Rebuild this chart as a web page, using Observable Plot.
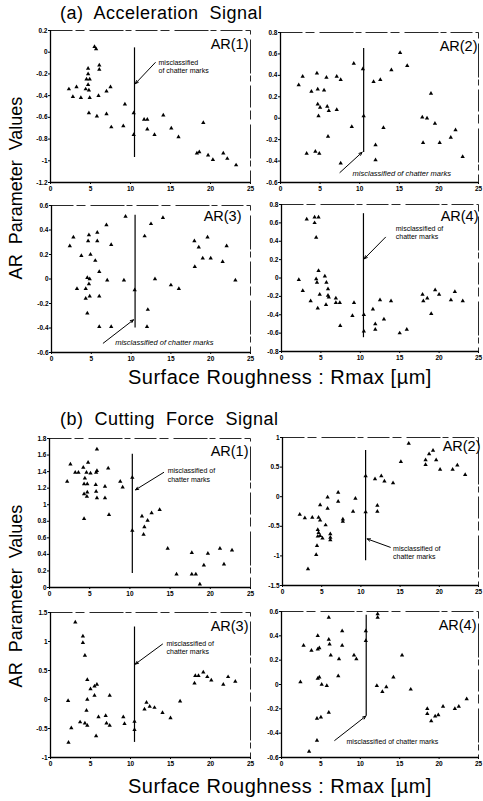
<!DOCTYPE html>
<html><head><meta charset="utf-8">
<script src="https://cdn.jsdelivr.net/npm/d3@7"></script>
<script src="https://cdn.jsdelivr.net/npm/@observablehq/plot@0.6"></script>
<style>
body{margin:0;background:#fff;}
#page{position:relative;width:483px;height:801px;overflow:hidden;background:#fff;font-family:"Liberation Sans",Arial,sans-serif;color:#000;}
.t{position:absolute;white-space:pre;line-height:1;}
</style></head><body><div id="page"></div>
<script>
// ---------- tick labels ----------
const xTicks = [0, 5, 10, 15, 20, 25];
const ticksA1 = [-1.2, -1, -0.8, -0.6, -0.4, -0.2, 0, 0.2];
const ticksA2 = [-0.6, -0.4, -0.2, 0, 0.2, 0.4, 0.6, 0.8];
const ticksA3 = [-0.6, -0.4, -0.2, 0, 0.2, 0.4, 0.6];
const ticksA4 = [-0.8, -0.6, -0.4, -0.2, 0, 0.2, 0.4, 0.6, 0.8];
const ticksB1 = [0, 0.2, 0.4, 0.6, 0.8, 1, 1.2, 1.4, 1.6, 1.8];
const ticksB2 = [-1.5, -1, -0.5, 0, 0.5, 1];
const ticksB3 = [-1, -0.5, 0, 0.5, 1, 1.5];
const ticksB4 = [-0.6, -0.4, -0.2, 0, 0.2, 0.4, 0.6];

// ---------- data: [Rmax (um), AR parameter value] ----------
const accAR1 = [[5.5,0.05],[5.7,0.03],[6.1,-0.12],[6.1,-0.16],[4.7,-0.15],[4.7,-0.20],[4.5,-0.25],[4.9,-0.25],[4.7,-0.30],[2.3,-0.34],[3.25,-0.32],[2.8,-0.41],[3.8,-0.42],[4.4,-0.34],[4.8,-0.35],[4.9,-0.42],[6.0,-0.40],[7.0,-0.36],[7.5,-0.32],[4.8,-0.56],[5.8,-0.59],[7.0,-0.57],[7.6,-0.69],[9.3,-0.48],[9.1,-0.68],[10.4,-0.56],[10.4,-0.76],[11.7,-0.62],[12.1,-0.62],[12.1,-0.71],[13.0,-0.76],[14.1,-0.58],[15.1,-0.70],[16.0,-0.78],[19.1,-0.65],[18.3,-0.93],[18.6,-0.92],[19.7,-0.95],[20.3,-0.99],[21.6,-0.93],[22.1,-0.98],[23.2,-1.04]];
const accAR2 = [[2.3,0.31],[2.8,0.39],[3.9,0.25],[4.6,0.42],[4.7,0.27],[5.5,0.26],[5.8,0.38],[7.1,0.39],[7.6,0.36],[9.25,0.51],[10.4,0.46],[4.7,0.13],[5.0,0.10],[5.9,0.11],[6.1,0.07],[7.1,0.08],[4.8,0.02],[6.0,-0.17],[3.3,-0.33],[4.4,-0.31],[4.9,-0.33],[7.6,-0.42],[9.0,-0.08],[10.5,0.02],[11.75,0.34],[12.6,0.36],[14.0,0.45],[15.1,0.61],[16.0,0.49],[12.0,-0.25],[12.0,-0.39],[13.0,-0.09],[19.0,0.23],[17.9,0.01],[18.5,0.0],[19.5,-0.05],[18.0,-0.23],[20.1,-0.23],[21.5,-0.18],[22.1,-0.11],[23.0,-0.36]];
const accAR3 = [[2.3,0.27],[2.75,0.34],[3.75,0.19],[4.7,0.36],[4.6,0.31],[5.75,0.38],[5.75,0.31],[4.9,0.20],[5.5,0.15],[6.0,0.06],[6.9,0.44],[7.5,0.28],[9.3,0.51],[4.5,0.01],[4.8,0.0],[4.7,-0.04],[3.2,-0.08],[4.3,-0.08],[4.3,-0.16],[4.8,-0.14],[6.0,-0.14],[4.5,-0.28],[6.0,-0.39],[7.5,-0.39],[7.0,-0.01],[9.1,-0.01],[10.45,-0.09],[11.7,0.35],[12.5,0.45],[14.0,0.50],[13.0,0.0],[12.1,-0.25],[12.0,-0.39],[15.0,-0.05],[16.0,-0.08],[17.95,0.31],[18.5,0.26],[19.6,0.34],[19.0,0.17],[20.0,0.17],[18.0,0.10],[21.5,0.14],[22.0,0.27],[23.1,-0.01]];
const accAR4 = [[3.2,0.64],[4.2,0.66],[4.7,0.66],[4.2,0.60],[4.4,0.44],[4.7,0.08],[4.4,-0.01],[4.5,-0.05],[2.2,-0.02],[2.7,-0.14],[3.7,-0.25],[4.85,-0.18],[4.6,-0.33],[5.5,0.02],[5.7,-0.05],[5.9,-0.12],[5.9,-0.19],[6.0,-0.21],[5.65,-0.29],[6.9,-0.22],[6.9,-0.27],[7.4,-0.27],[7.45,-0.52],[9.2,-0.27],[9.0,-0.41],[10.45,-0.40],[10.45,-0.58],[11.6,-0.34],[11.9,-0.50],[11.9,-0.56],[12.5,-0.24],[13.0,-0.45],[13.9,-0.25],[15.0,-0.60],[15.9,-0.56],[17.9,-0.18],[18.0,-0.25],[18.5,-0.22],[19.0,-0.39],[19.5,-0.13],[20.0,-0.18],[21.5,-0.24],[22.0,-0.15],[23.0,-0.25]];
const forceAR1 = [[2.2,1.28],[2.6,1.49],[3.2,1.39],[3.6,1.39],[4.2,1.45],[4.8,1.51],[4.4,1.32],[4.6,1.39],[5.1,1.38],[4.3,1.25],[4.7,1.25],[4.3,1.13],[4.7,1.15],[4.65,1.10],[5.9,1.67],[5.8,1.39],[5.9,1.41],[5.75,1.24],[5.8,1.16],[5.9,1.08],[6.9,1.22],[6.9,1.08],[7.3,1.44],[7.4,0.88],[4.3,0.83],[8.8,1.28],[9.1,1.21],[10.3,1.33],[10.3,0.69],[11.5,0.86],[11.8,0.73],[11.7,0.64],[12.2,0.81],[12.7,0.90],[13.7,0.94],[14.7,0.47],[15.8,0.16],[17.7,0.42],[17.7,0.16],[18.2,0.16],[18.7,0.04],[19.2,0.27],[19.7,0.41],[21.2,0.47],[21.7,0.28],[22.7,0.45]];
const forceAR2 = [[2.2,-0.30],[2.85,-0.36],[3.8,-0.35],[4.6,-0.35],[4.8,-0.40],[4.8,-0.14],[5.75,-0.01],[5.75,-0.20],[7.1,0.07],[7.1,-0.08],[7.7,-0.38],[7.7,-0.42],[5.5,-0.48],[4.5,-0.56],[4.6,-0.61],[4.8,-0.66],[4.5,-0.67],[5.1,-0.70],[6.1,-0.63],[6.1,-0.69],[6.1,-0.73],[4.4,-0.83],[4.3,-0.98],[3.25,-1.22],[9.0,-0.25],[9.3,-0.03],[10.6,-0.26],[10.6,0.35],[11.8,0.30],[12.6,0.35],[13.0,0.26],[12.1,-0.15],[12.1,-0.25],[14.1,0.23],[15.1,0.59],[16.1,0.90],[18.25,0.62],[18.25,0.54],[18.7,0.72],[19.2,0.78],[19.6,0.62],[20.1,0.46],[21.7,0.46],[22.3,0.53],[23.3,0.37]];
const forceAR3 = [[3.1,1.33],[4.05,1.09],[4.05,0.98],[4.3,0.76],[4.6,0.34],[5.0,0.18],[5.5,0.23],[5.8,0.26],[4.6,0.0],[5.5,0.07],[7.4,0.07],[2.2,-0.02],[4.5,-0.19],[6.0,-0.30],[6.9,-0.28],[3.7,-0.39],[4.3,-0.41],[4.6,-0.45],[2.6,-0.49],[7.0,-0.41],[7.4,-0.45],[5.7,-0.63],[2.25,-0.74],[9.1,-0.30],[9.25,-0.42],[10.5,-0.38],[10.5,-0.52],[11.75,-0.17],[12.0,-0.05],[12.4,-0.12],[13.0,-0.14],[14.0,-0.23],[15.0,-0.32],[16.2,-0.03],[18.0,0.28],[18.1,0.41],[18.5,0.41],[19.1,0.47],[19.6,0.39],[20.1,0.33],[21.6,0.26],[22.2,0.39],[23.1,0.31]];
const forceAR4 = [[2.8,0.32],[3.8,0.28],[4.6,0.29],[4.8,0.30],[4.6,0.40],[6.0,0.55],[6.0,0.37],[6.1,0.33],[6.25,0.24],[7.3,0.21],[7.7,0.44],[7.7,0.32],[7.2,0.07],[9.2,0.24],[9.5,0.21],[2.4,0.02],[4.8,0.06],[4.6,0.05],[5.1,0.0],[5.75,-0.01],[6.0,-0.23],[4.5,-0.28],[5.0,-0.27],[4.5,-0.46],[3.5,-0.55],[10.7,0.44],[10.7,0.36],[12.2,0.58],[12.2,0.55],[12.1,-0.01],[12.8,-0.06],[13.3,-0.02],[14.2,0.06],[15.3,0.24],[16.4,-0.04],[18.5,-0.20],[18.5,-0.24],[19.0,-0.30],[19.5,-0.26],[19.9,-0.25],[20.5,-0.18],[22.0,-0.20],[22.5,-0.18],[23.5,-0.12]];

// threshold lines (Rmax where classification switches) and their extent
const cutA1 = {x:10.5, y1:0.04, y2:-0.97};
const cutA2 = {x:10.5, y1:0.65, y2:-0.32};
const cutA3 = {x:10.5, y1:0.52, y2:-0.40};
const cutA4 = {x:10.4, y1:0.70, y2:-0.65};
const cutB1 = {x:10.3, y1:1.61, y2:0.17};
const cutB2 = {x:10.6, y1:0.78, y2:-1.08};
const cutB3 = {x:10.5, y1:1.25, y2:-0.74};
const cutB4 = {x:10.75, y1:0.57, y2:-0.26};

// annotations (data coordinates)
const noteA1 = {text:"misclassified\nof chatter marks", tx:13.5, ty:-0.131, x1:13.1, y1:-0.095, x2:10.6, y2:-0.29};
const noteA2 = {text:"misclassified of chatter marks", tx:9.1, ty:-0.512, x1:7.5, y1:-0.507, x2:10.3, y2:-0.318};
const noteA3 = {text:"misclassified of chatter marks", tx:8.0, ty:-0.52, x1:6.5, y1:-0.524, x2:10.3, y2:-0.333};
const noteA4 = {text:"misclassified of\nchatter marks", tx:14.5, ty:0.50, x1:13.2, y1:0.444, x2:10.5, y2:0.209};
const noteB1 = {text:"misclassified of\nchatter marks", tx:14.7, ty:1.36, x1:14.2, y1:1.39, x2:10.7, y2:1.18};
const noteB2 = {text:"misclassified of\nchatter marks", tx:14.1, ty:-0.944, x1:13.75, y1:-0.855, x2:10.8, y2:-0.713};
const noteB3 = {text:"misclassified of\nchatter marks", tx:14.5, ty:0.897, x1:14.0, y1:0.955, x2:10.6, y2:0.61};
const noteB4 = {text:"misclassified of chatter marks", tx:8.25, ty:-0.467, x1:6.75, y1:-0.46, x2:10.7, y2:-0.26};

const panels = [
  {data:accAR1, yDomain:[-1.2,0.2], yTicks:ticksA1, box:[50,30,250,182], label:"AR(1)", ldx:-2, ldy:13.5, cut:cutA1, note:noteA1, italic:false},
  {data:accAR2, yDomain:[-0.6,0.8], yTicks:ticksA2, box:[280,32,478,182], label:"AR(2)", ldx:-1, ldy:14, cut:cutA2, note:noteA2, italic:true},
  {data:accAR3, yDomain:[-0.6,0.6], yTicks:ticksA3, box:[51,205,250,352], label:"AR(3)", ldx:-9, ldy:11, cut:cutA3, note:noteA3, italic:true},
  {data:accAR4, yDomain:[-0.8,0.8], yTicks:ticksA4, box:[281,204,478,351], label:"AR(4)", ldx:0, ldy:12, cut:cutA4, note:noteA4, italic:false},
  {data:forceAR1, yDomain:[0,1.8], yTicks:ticksB1, box:[49,438,250,587], label:"AR(1)", ldx:-2, ldy:12.5, cut:cutB1, note:noteB1, italic:false},
  {data:forceAR2, yDomain:[-1.5,1], yTicks:ticksB2, box:[282,437,478,585], label:"AR(2)", ldx:2, ldy:8.5, cut:cutB2, note:noteB2, italic:false},
  {data:forceAR3, yDomain:[-1,1.5], yTicks:ticksB3, box:[50,612,250,757], label:"AR(3)", ldx:-2, ldy:14, cut:cutB3, note:noteB3, italic:false},
  {data:forceAR4, yDomain:[-0.6,0.6], yTicks:ticksB4, box:[281,611,478,757], label:"AR(4)", ldx:-2, ldy:14, cut:cutB4, note:noteB4, italic:false}
];

const fmt = d => String(Math.round(d * 10) / 10);
const page = document.getElementById("page");
const FONT = "'Liberation Sans', Arial, Helvetica, sans-serif";

for (const p of panels) {
  const [L, T, R, B] = p.box;
  const mL = 30, mR = 5, mT = 6, mB = 14;
  const chart = Plot.plot({
    width: R - L + mL + mR,
    height: B - T + mT + mB,
    marginLeft: mL, marginRight: mR, marginTop: mT, marginBottom: mB,
    style: {background: "transparent", fontFamily: FONT, fontSize: "6.5px", fontWeight: "bold", overflow: "visible"},
    x: {domain: [0, 25], ticks: xTicks, tickSize: 2, tickPadding: 1.5, label: null, tickFormat: fmt},
    y: {domain: p.yDomain, ticks: p.yTicks, tickSize: 2, tickPadding: 1, label: null, tickFormat: fmt},
    marks: [
      Plot.frame({stroke: "#111", strokeWidth: 0.9, strokeDasharray: "22,3,9,5,34,2,6,4"}),
      Plot.ruleX([0], {stroke: "#000", strokeWidth: 1.3}),
      Plot.ruleY([p.yDomain[0]], {stroke: "#000", strokeWidth: 1.3}),
      Plot.ruleX([p.cut], {x: "x", y1: "y1", y2: "y2", stroke: "#000", strokeWidth: 1.2}),
      Plot.dot(p.data, {x: d => d[0], y: d => d[1], symbol: "triangle", r: 1.6, fill: "#000", stroke: "none"}),
      Plot.arrow([p.note], {x1: "x1", y1: "y1", x2: "x2", y2: "y2", stroke: "#000", strokeWidth: 1, headLength: 5, headAngle: 45}),
      Plot.text([p.note], {x: "tx", y: "ty", text: "text", textAnchor: "start", fontSize: p.italic ? 7.5 : 7, fontStyle: p.italic ? "italic" : "normal", fontWeight: "normal", lineHeight: 1.15, fill: "#000"}),
      Plot.text([p.label], {frameAnchor: "top-right", text: d => d, dx: p.ldx, dy: p.ldy, lineAnchor: "middle", fontSize: 14.5, fontWeight: "normal", fill: "#000"})
    ]
  });
  chart.style.position = "absolute";
  chart.style.left = (L - mL) + "px";
  chart.style.top = (T - mT) + "px";
  page.appendChild(chart);
}

function addText(txt, css) {
  const d = document.createElement("div");
  d.className = "t";
  d.textContent = txt;
  Object.assign(d.style, css);
  page.appendChild(d);
  return d;
}
addText("(a)  Acceleration  Signal", {left: "60px", top: "4px", fontSize: "18px", letterSpacing: "0.5px"});
addText("(b)  Cutting  Force  Signal", {left: "60px", top: "410px", fontSize: "18px", letterSpacing: "0.5px"});
addText("Surface Roughness : Rmax [\u00b5m]", {left: "128px", top: "367px", fontSize: "20px", letterSpacing: "0.5px"});
addText("Surface Roughness : Rmax [\u00b5m]", {left: "128px", top: "776px", fontSize: "20px", letterSpacing: "0.5px"});
for (const cy of [188, 596]) {
  addText("AR  Parameter  Values", {left: "16px", top: cy + "px", fontSize: "18px", transform: "translate(-50%,-50%) rotate(-90deg)"});
}
</script>
</body></html>
